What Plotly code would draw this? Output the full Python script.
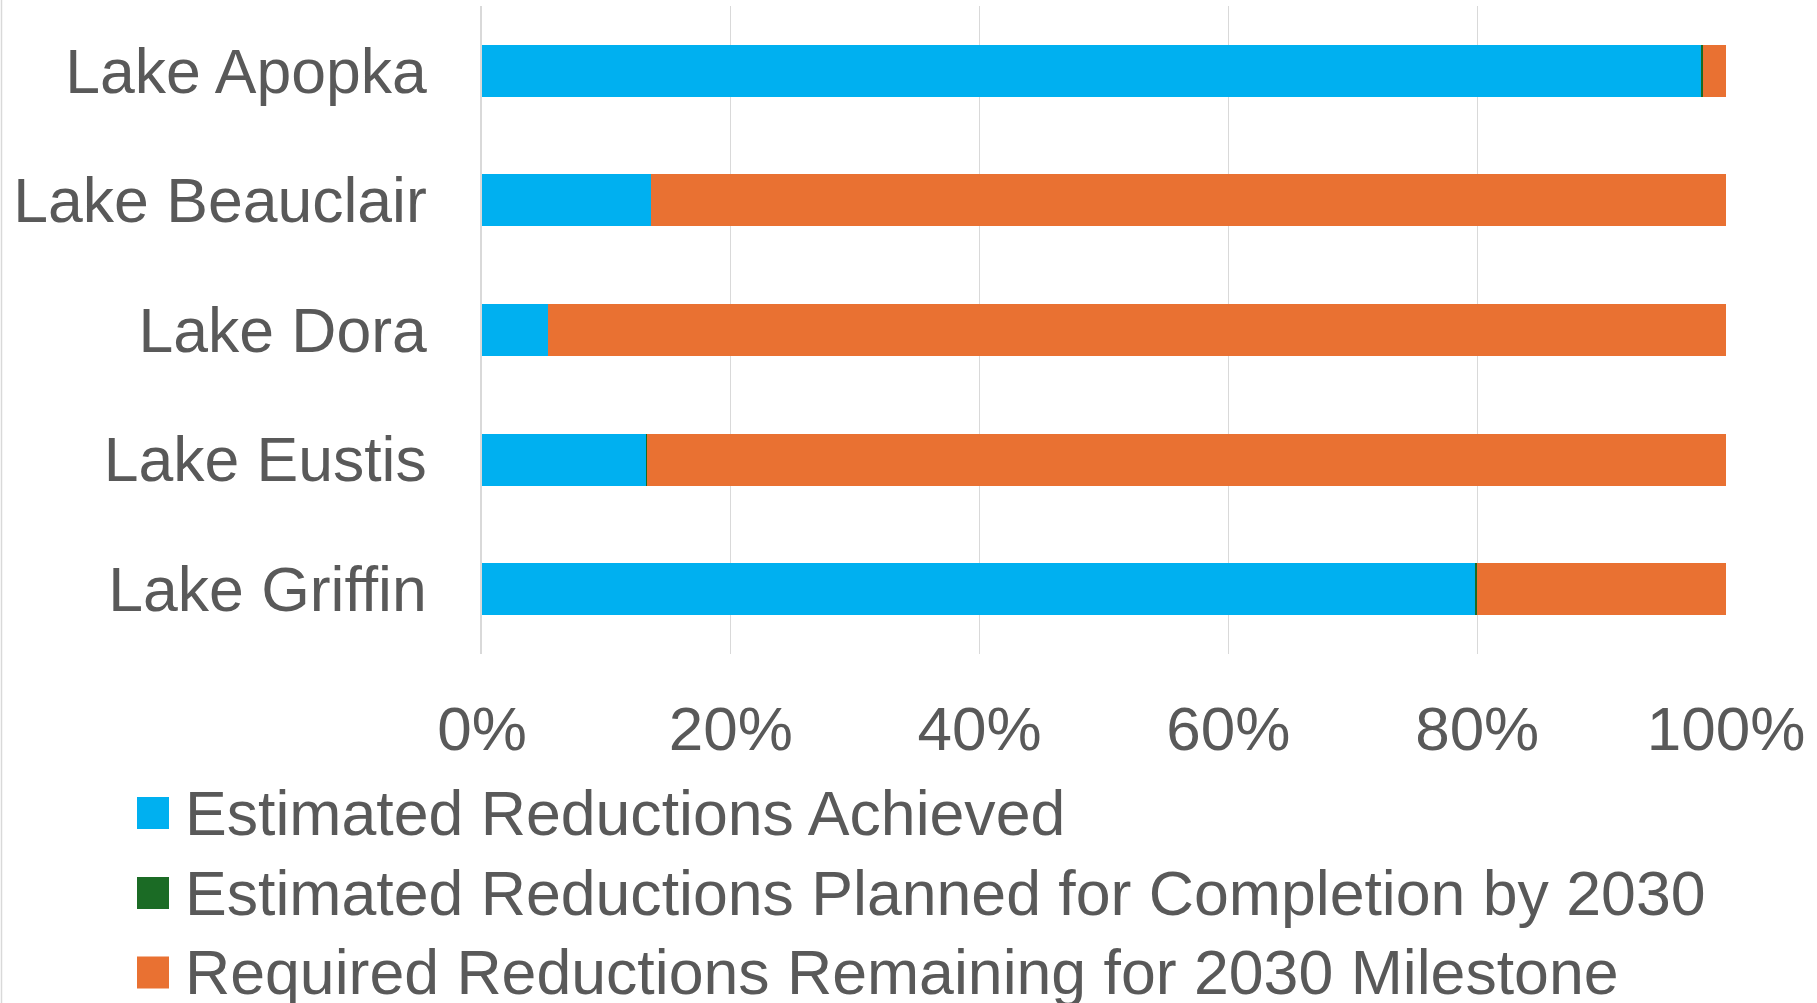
import plotly.graph_objects as go

lakes = ["Lake Apopka", "Lake Beauclair", "Lake Dora", "Lake Eustis", "Lake Griffin"]
achieved = [98.0, 13.6, 5.3, 13.2, 79.9]
planned = [0.17, 0.0, 0.0, 0.08, 0.05]
remaining = [1.83, 86.4, 94.7, 86.72, 20.05]

series_names = [
    "Estimated Reductions Achieved",
    "Estimated Reductions Planned for Completion by 2030",
    "Required Reductions Remaining for 2030 Milestone",
]
series_values = [achieved, planned, remaining]
series_colors = ["#00B0F0", "#1B6B25", "#E97132"]

tick_vals = [0, 20, 40, 60, 80, 100]
tick_text = ["0%", "20%", "40%", "60%", "80%", "100%"]

W, H = 1817, 1003
ML, MR, MT, MB = 482, 91, 6, 349
PW = W - ML - MR
PH = H - MT - MB
FONT = "Arial, 'Liberation Sans', sans-serif"
TXT = "#595959"
FS = 62.5
FS_LEG = 62.6


def px_x(p):
    return (p - ML) / PW


def px_y(p):
    return (H - MB - p) / PH


fig = go.Figure()
for name, vals, col in zip(series_names, series_values, series_colors):
    fig.add_trace(go.Bar(
        y=lakes, x=vals, name=name, orientation="h",
        marker=dict(color=col, line=dict(width=0)),
        showlegend=False,
    ))

shapes = []
annotations = []
row_centers = [813, 893, 972.5]
for i, (name, col) in enumerate(zip(series_names, series_colors)):
    cy = row_centers[i]
    shapes.append(dict(type="rect", xref="paper", yref="paper",
                       x0=px_x(137), x1=px_x(169), y0=px_y(cy + 16), y1=px_y(cy - 16),
                       fillcolor=col, line=dict(width=0)))
    annotations.append(dict(text=name, xref="paper", yref="paper",
                            x=px_x(183), y=px_y(cy), xanchor="left", yanchor="middle",
                            showarrow=False, font=dict(size=FS_LEG, color=TXT, family=FONT)))

# left chart border
shapes.append(dict(type="line", xref="paper", yref="paper",
                   x0=px_x(1.5), x1=px_x(1.5), y0=px_y(0), y1=px_y(H),
                   line=dict(color="#d9d9d9", width=1.5)))

fig.update_layout(
    width=W, height=H,
    margin=dict(l=ML, r=MR, t=MT, b=MB, pad=0, autoexpand=False),
    barmode="stack", bargap=0.6,
    plot_bgcolor="white", paper_bgcolor="white",
    font=dict(family=FONT, color=TXT, size=FS),
    shapes=shapes, annotations=annotations,
    xaxis=dict(range=[0, 100], tickvals=tick_vals, ticktext=tick_text,
               showgrid=True, gridcolor="#d9d9d9", gridwidth=1.3,
               zeroline=False, showline=False, ticks="", automargin=False,
               tickfont=dict(size=62, color=TXT, family=FONT),
               ticklabelstandoff=33, fixedrange=True),
    yaxis=dict(categoryorder="array", categoryarray=lakes, autorange="reversed",
               showgrid=False, zeroline=False, showline=True, linecolor="#d9d9d9",
               linewidth=1.5, ticks="", automargin=False,
               tickfont=dict(size=FS, color=TXT, family=FONT),
               ticklabelstandoff=41, fixedrange=True),
)

fig.write_html("out.html")
